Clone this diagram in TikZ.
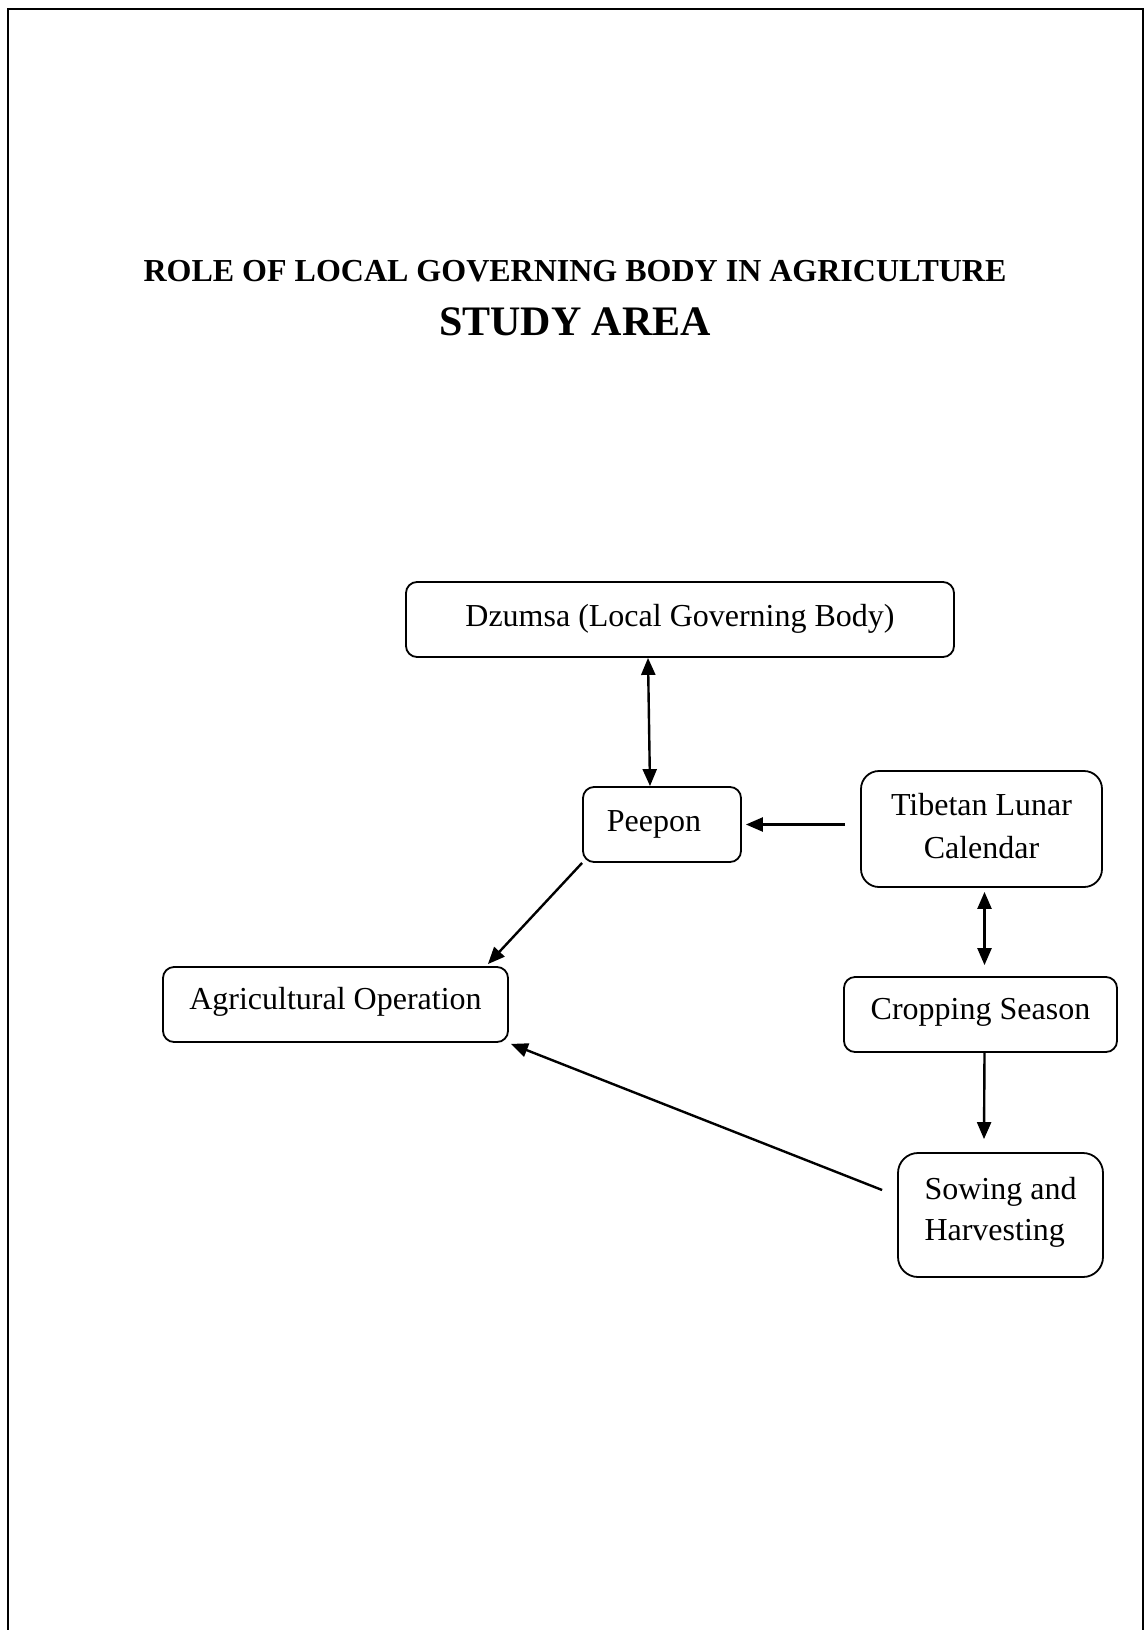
\documentclass[tikz,border=0pt]{standalone}
\usepackage{fontspec}
\setmainfont{Liberation Serif}
\usetikzlibrary{arrows.meta}

\begin{document}
\begin{tikzpicture}[x=1pt,y=-1pt,
    box/.style={draw, line width=1.8pt, rounded corners=11pt, inner sep=0pt,
      font=\fontsize{32}{43}\selectfont},
    head/.style={Triangle[length=17pt,width=14pt]},
    link/.style={line width=2.4pt, -{Triangle[length=17pt,width=14pt]}},
    twoway/.style={line width=2.4pt, {Triangle[length=17pt,width=14pt]}-{Triangle[length=17pt,width=14pt]}}]
  \useasboundingbox (0,0) rectangle (1145,1630);
  % page frame, open at the bottom
  \draw[line width=2pt] (8,1630) -- (8,9) -- (1143,9) -- (1143,1630);

  % headings
  \node[font=\bfseries\fontsize{32}{38}\selectfont, anchor=base] (head) at (575,281)
    {ROLE OF LOCAL GOVERNING BODY IN AGRICULTURE};
  \node[font=\bfseries\fontsize{42}{48}\selectfont, anchor=base] (area) at (575,335)
    {STUDY AREA};

  % boxes
  \node[box, minimum width=548pt, minimum height=75pt, text depth=9pt] (dz) at (680,619.5)
    {Dzumsa (Local Governing Body)};
  \node[box, minimum width=158pt, minimum height=75pt] (pp) at (662,824.5)
    {Peepon\hspace*{16pt}};
  \node[box, rounded corners=18pt, minimum width=241pt, minimum height=116pt, align=center,
        text depth=6pt] (tl) at (981.5,829)
    {Tibetan Lunar\\Calendar};
  \node[box, minimum width=345pt, minimum height=75pt, text depth=13pt] (ag) at (335.5,1004.5)
    {Agricultural Operation};
  \node[box, minimum width=273pt, minimum height=75pt, text depth=11pt] (cs) at (980.5,1014.5)
    {Cropping Season};
  \node[box, rounded corners=20pt, minimum width=205pt, minimum height=124pt, align=left,
        font=\fontsize{32}{41}\selectfont, text depth=12pt] (sh) at (1000.5,1215)
    {Sowing and\\Harvesting};

  % connectors
  \draw[twoway] ([xshift=-32pt]dz.south) -- ([xshift=-12pt]pp.north);
  \draw[link] ([xshift=-15pt]tl.west |- pp.east) -- ([xshift=4pt]pp.east);
  \draw[link] (pp.south west) -- ([xshift=-21pt,yshift=2pt]ag.north east);
  \draw[twoway] ([xshift=3pt,yshift=-4pt]tl.south) -- ([xshift=4pt,yshift=11pt]cs.north);
  \draw[link] ([xshift=4pt]cs.south) -- ([xshift=-16.5pt,yshift=13pt]sh.north);
  \draw[link] ([xshift=-15pt,yshift=25pt]sh.west) -- ([xshift=2pt,yshift=-1pt]ag.south east);
\end{tikzpicture}
\end{document}
